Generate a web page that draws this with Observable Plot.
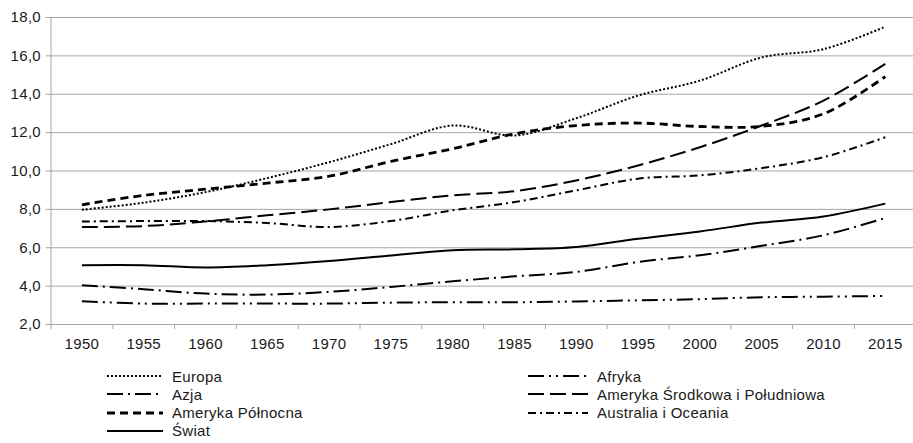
<!DOCTYPE html>
<html><head><meta charset="utf-8">
<script src="https://cdn.jsdelivr.net/npm/d3@7"></script>
<script src="https://cdn.jsdelivr.net/npm/@observablehq/plot@0.6"></script>
<style>
html,body{margin:0;padding:0;background:#fff;overflow:hidden;}
#chart svg{display:block;}
#legend{position:relative;height:88px;font-family:"Liberation Sans",Arial,sans-serif;font-size:15px;letter-spacing:0.3px;color:#1a1a1a;}
.item{position:absolute;display:flex;align-items:center;height:18px;white-space:nowrap;}
.item svg{margin-right:9px;display:block;}
</style></head><body><div id="chart"></div><div id="legend"></div>
<script>
const years = [1950,1955,1960,1965,1970,1975,1980,1985,1990,1995,2000,2005,2010,2015];
const europa    = [7.98,8.35,8.90,9.63,10.46,11.40,12.37,11.85,12.75,13.93,14.71,15.92,16.35,17.52];
const afryka    = [3.21,3.09,3.09,3.09,3.09,3.14,3.16,3.16,3.20,3.26,3.32,3.42,3.45,3.49];
const azja      = [4.04,3.84,3.61,3.56,3.70,3.96,4.25,4.51,4.74,5.26,5.61,6.10,6.65,7.55];
const amerykaSr = [7.08,7.13,7.37,7.69,8.00,8.38,8.73,8.95,9.51,10.29,11.24,12.37,13.67,15.58];
const amerykaPn = [8.24,8.73,9.05,9.37,9.73,10.50,11.16,11.94,12.37,12.50,12.32,12.33,12.98,14.92];
const australia = [7.37,7.39,7.39,7.29,7.08,7.39,7.95,8.38,8.99,9.60,9.77,10.15,10.72,11.76];
const swiat     = [5.09,5.09,4.97,5.09,5.31,5.60,5.87,5.92,6.04,6.47,6.85,7.31,7.63,8.30];
const seriesNames = ["Europa","Afryka","Azja","Ameryka Środkowa i Południowa","Ameryka Północna","Australia i Oceania","Świat"];
const seriesValues = [europa,afryka,azja,amerykaSr,amerykaPn,australia,swiat];
const yTicks = [2,4,6,8,10,12,14,16,18];

// styles (not data)
const styles = [
  {dash:"2,2", w:2},
  {dash:"16,5,2,5,2,5", w:2},
  {dash:"16,5,2,5", w:2},
  {dash:"16,6", w:2},
  {dash:"8,5", w:2.8},
  {dash:"8,4,2,4", w:2},
  {dash:null, w:2}
];

const table = seriesNames.flatMap((name,i)=>years.map((year,j)=>({name,year,value:seriesValues[i][j]})));
const boundaries = [years[0]-2.5, ...years.map(y=>y+2.5)];
const fmt = d => d.toFixed(1).replace(".", ",");
const grey = "#a6a6a6";

const lines = seriesNames.map((name,i)=>Plot.line(table.filter(d=>d.name===name),{
  x:"year", y:"value", stroke:"#000", strokeWidth:styles[i].w,
  strokeDasharray:styles[i].dash || undefined, strokeLinecap:"butt", strokeLinejoin:"round", curve:"catmull-rom"
}));

const plot = Plot.plot({
  width:913, height:355,
  marginLeft:50, marginRight:0, marginTop:17, marginBottom:31,
  style:{fontFamily:"Liberation Sans, Arial, sans-serif", fontSize:"15px", letterSpacing:"0.3px", color:"#1a1a1a", background:"#fff", overflow:"hidden"},
  x:{type:"linear", domain:[boundaries[0], boundaries[boundaries.length-1]], range:[50.5, 915.7]},
  y:{domain:[2,18]},
  marks:[
    Plot.ruleY(yTicks,{stroke:grey, strokeWidth:1}),
    Plot.ruleX([boundaries[0]],{stroke:grey}),
    Plot.axisY(yTicks,{tickFormat:fmt, tickSize:4.5, tickPadding:5, stroke:grey, fill:"#1a1a1a", label:null}),
    Plot.axisX(boundaries,{tickFormat:()=>"", tickSize:5, stroke:grey, label:null}),
    Plot.axisX(years,{tickFormat:d=>String(d), tickSize:0, tickPadding:14, fill:"#1a1a1a", label:null}),
    ...lines
  ]
});
document.getElementById("chart").appendChild(plot);

const legend = document.getElementById("legend");
seriesNames.forEach((name,i)=>{
  const col = i%2, row = Math.floor(i/2);
  const item = document.createElement("div");
  item.className = "item";
  item.style.left = (col===0 ? 107 : 528) + "px";
  item.style.top = (12 + row*18.3) + "px";
  const sw = col===0 ? 56 : 60;
  const s = styles[i];
  item.innerHTML = `<svg width="${sw}" height="6"><line x1="0" y1="3" x2="${sw}" y2="3" stroke="#000" stroke-width="${s.w}" ${s.dash?`stroke-dasharray="${s.dash}"`:""}/></svg><span>${name}</span>`;
  legend.appendChild(item);
});
</script>
</body></html>
